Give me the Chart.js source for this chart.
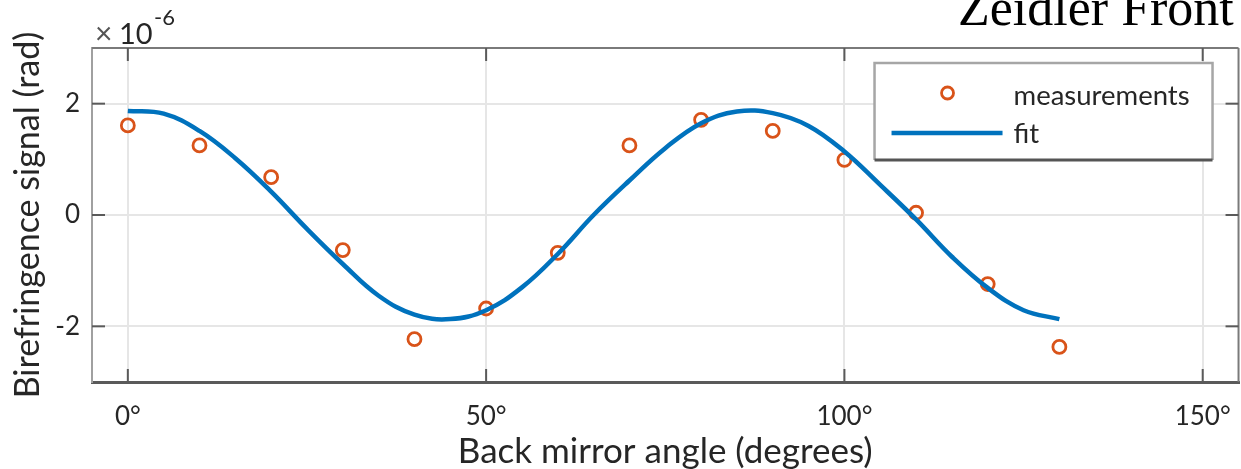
<!DOCTYPE html>
<html><head><meta charset="utf-8">
<script src="https://cdn.jsdelivr.net/npm/chart.js@4.4.1/dist/chart.umd.min.js"></script>
<style>
html,body{margin:0;padding:0;background:#fff;overflow:hidden;width:1241px;height:469px;}
#wrap{position:relative;width:1250px;height:469px;}
#c{position:absolute;left:0;top:0;}
#title{position:absolute;left:958px;top:-18px;font:52px/52px "Liberation Serif",serif;color:#000;white-space:nowrap;}
.m{position:absolute;color:#262626;white-space:nowrap;font-family:Lato,sans-serif;}
#mx{left:95px;top:17px;font-size:30px;line-height:30px;color:#555;}
#m10{left:119px;top:18px;font-size:29px;line-height:29px;}
#mexp{left:154px;top:6px;font-size:22px;line-height:22px;}
</style></head>
<body>
<div id="wrap">
<canvas id="c" width="1250" height="469"></canvas>
<div id="title">Zeidler Front</div>
<div class="m" id="mx">×</div><div class="m" id="m10">10</div><div class="m" id="mexp">-6</div>
</div>
<script>
// values in units of 1e-6 rad
const angles = [0,10,20,30,40,50,60,70,80,90,100,110,120,130];
const measurements = [1.61,1.25,0.68,-0.63,-2.23,-1.68,-0.68,1.25,1.71,1.51,0.99,0.04,-1.24,-2.37];
const fitAngles = [0,5,10,15,20,25,30,35,40,45,50,55,60,65,70,75,80,85,90,95,100,105,110,115,120,125,130];
const fitValues = [1.87,1.82,1.51,1.02,0.42,-0.25,-0.88,-1.45,-1.79,-1.87,-1.71,-1.30,-0.70,0.0,0.62,1.20,1.65,1.86,1.83,1.60,1.14,0.54,-0.08,-0.75,-1.31,-1.71,-1.87];
const xTickValues = [0,50,100,150];
const yTickValues = [-2,0,2];
const seriesLabels = ['measurements','fit'];
const xTitle = 'Back mirror angle (degrees)';
const yTitle = 'Birefringence signal (rad)';

const ORANGE = '#D95319', BLUE = '#0072BD', TXT = '#262626';
const FONT = 'Lato';

const framePlugin = {
  id: 'frame',
  beforeDatasetsDraw(chart) {
    const {ctx, chartArea: a, scales: {x, y}} = chart;
    ctx.save();
    ctx.strokeStyle = '#7a7a7a'; ctx.lineWidth = 2;
    ctx.beginPath(); ctx.moveTo(a.left, a.top); ctx.lineTo(a.right, a.top); ctx.stroke();
    ctx.beginPath(); ctx.moveTo(a.right, a.top); ctx.lineTo(a.right, a.bottom); ctx.stroke();
    ctx.strokeStyle = '#5a5a5a';
    const L = 13;
    yTickValues.forEach(v => {
      const py = y.getPixelForValue(v);
      ctx.beginPath(); ctx.moveTo(a.left, py); ctx.lineTo(a.left + L, py); ctx.stroke();
      ctx.beginPath(); ctx.moveTo(a.right - L, py); ctx.lineTo(a.right, py); ctx.stroke();
    });
    xTickValues.forEach(v => {
      const px = x.getPixelForValue(v);
      ctx.beginPath(); ctx.moveTo(px, a.bottom); ctx.lineTo(px, a.bottom - L); ctx.stroke();
      ctx.beginPath(); ctx.moveTo(px, a.top); ctx.lineTo(px, a.top + L); ctx.stroke();
    });
    ctx.restore();
  },
  afterDatasetsDraw(chart) {
    const {ctx, chartArea: a} = chart;
    const ds = chart.data.datasets;
    const bw = 338, bh = 97;
    const bx = a.right - 364, by = a.top + 15;
    ctx.save();
    ctx.fillStyle = '#fff';
    ctx.fillRect(bx, by, bw, bh);
    ctx.strokeStyle = '#a6a6a6'; ctx.lineWidth = 2.5;
    ctx.beginPath(); ctx.moveTo(bx, by + bh); ctx.lineTo(bx, by); ctx.lineTo(bx + bw, by); ctx.lineTo(bx + bw, by + bh); ctx.stroke();
    ctx.strokeStyle = '#555'; ctx.lineWidth = 3;
    ctx.beginPath(); ctx.moveTo(bx, by + bh); ctx.lineTo(bx + bw, by + bh); ctx.stroke();
    // entry 1
    ctx.strokeStyle = ds[0].borderColor; ctx.lineWidth = 2.8;
    ctx.beginPath(); ctx.arc(bx + 73, by + 30, 6, 0, Math.PI * 2); ctx.stroke();
    // entry 2
    ctx.strokeStyle = ds[1].borderColor; ctx.lineWidth = 4.5;
    ctx.beginPath(); ctx.moveTo(bx + 17, by + 70); ctx.lineTo(bx + 128, by + 70); ctx.stroke();
    ctx.fillStyle = TXT; ctx.font = '27.5px ' + FONT; ctx.textBaseline = 'middle'; ctx.textAlign = 'left';
    ctx.fillText(ds[0].label, bx + 139, by + 33);
    ctx.fillText(ds[1].label, bx + 139, by + 71);
    ctx.restore();
  }
};

new Chart(document.getElementById('c'), {
  type: 'scatter',
  data: {
    datasets: [
      {
        label: seriesLabels[0],
        data: angles.map((a, i) => ({x: a, y: measurements[i]})),
        borderColor: ORANGE,
        backgroundColor: 'rgba(0,0,0,0)',
        pointRadius: 6.5,
        pointBorderWidth: 2.8,
        showLine: false,
        order: 2
      },
      {
        label: seriesLabels[1],
        data: fitAngles.map((a, i) => ({x: a, y: fitValues[i]})),
        borderColor: BLUE,
        backgroundColor: BLUE,
        borderWidth: 4.5,
        pointRadius: 0,
        showLine: true,
        tension: 0.4,
        order: 1
      }
    ]
  },
  options: {
    responsive: false,
    animation: false,
    events: [],
    layout: {padding: {top: 48, right: 6, left: 0, bottom: 0}},
    plugins: {legend: {display: false}, tooltip: {enabled: false}},
    scales: {
      x: {
        type: 'linear', min: -5, max: 155,
        afterBuildTicks: s => { s.ticks = xTickValues.map(v => ({value: v})); },
        afterFit: s => { s.height = 87; },
        grid: {color: '#e6e6e6', lineWidth: 2, drawTicks: false},
        border: {color: '#5a5a5a', width: 3},
        ticks: {padding: 19, color: TXT, font: {family: FONT, size: 26}, callback: v => v + '°', maxRotation: 0},
        title: {display: true, text: xTitle, color: TXT, font: {family: FONT, size: 35, lineHeight: 1.0}, padding: {top: 0, bottom: 0}}
      },
      y: {
        type: 'linear', min: -3, max: 3,
        afterBuildTicks: s => { s.ticks = yTickValues.map(v => ({value: v})); },
        afterFit: s => { s.width = 92; },
        grid: {color: '#e6e6e6', lineWidth: 2, drawTicks: false},
        border: {color: '#a0a0a0', width: 2},
        ticks: {padding: 12, color: TXT, font: {family: FONT, size: 26}, callback: v => String(v)},
        title: {display: true, text: yTitle, color: TXT, font: {family: FONT, size: 34, lineHeight: 1.0}, padding: {top: 11, bottom: 11}}
      }
    }
  },
  plugins: [framePlugin]
});
</script>
</body></html>
